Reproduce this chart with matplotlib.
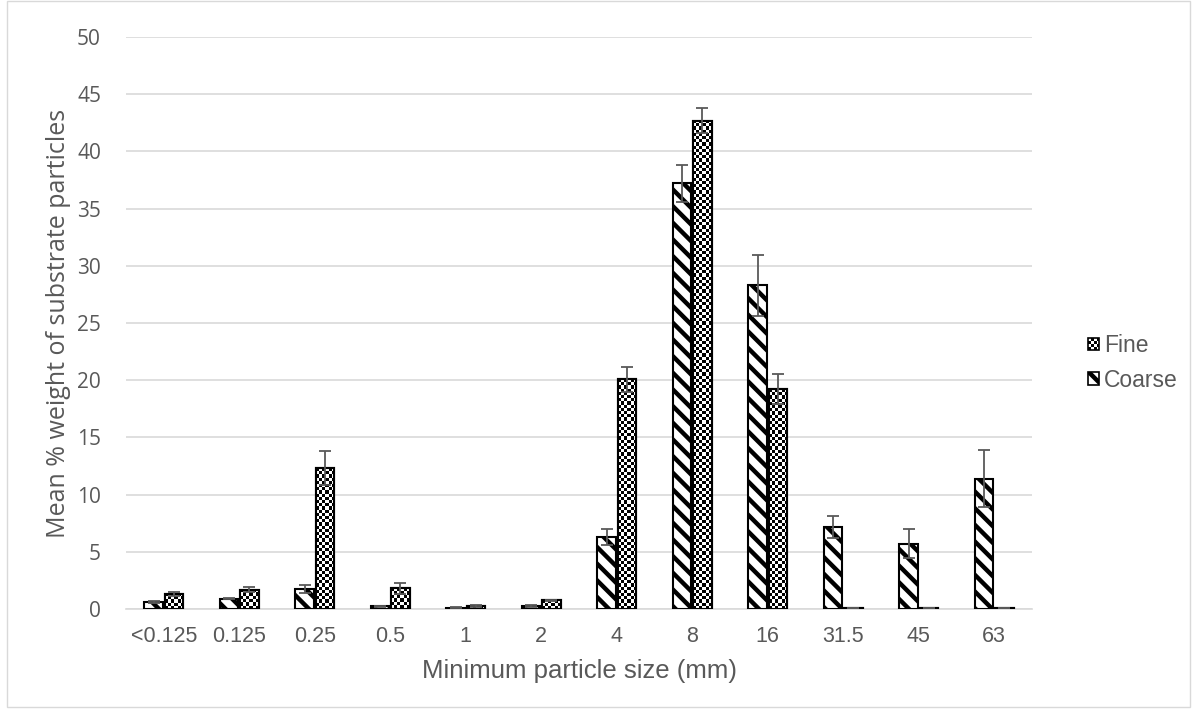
import numpy as np
import matplotlib
matplotlib.use("Agg")
import matplotlib.pyplot as plt
from matplotlib.patches import Patch, Rectangle
from matplotlib.legend_handler import HandlerBase

plt.rcParams['font.family'] = ['Liberation Sans', 'DejaVu Sans']
plt.rcParams['hatch.linewidth'] = 3.2

sizes = ["<0.125", "0.125", "0.25", "0.5", "1", "2", "4", "8", "16", "31.5", "45", "63"]
coarse = [0.61, 0.9, 1.75, 0.23, 0.12, 0.26, 6.3, 37.2, 28.3, 7.17, 5.72, 11.4]
coarse_err = [0.05, 0.05, 0.33, 0.05, 0.03, 0.05, 0.7, 1.6, 2.65, 1.0, 1.23, 2.5]
fine = [1.32, 1.7, 12.3, 1.81, 0.26, 0.76, 20.09, 42.7, 19.2, 0.05, 0.05, 0.05]
fine_err = [0.2, 0.23, 1.5, 0.5, 0.05, 0.05, 1.1, 1.07, 1.3, 0.0, 0.0, 0.0]

grey = "#595959"
W, H = 1192, 712


class CheckerHandler(HandlerBase):
    # small checkerboard square for the legend
    def create_artists(self, legend, orig_handle, xdescent, ydescent, width, height, fontsize, trans):
        arts = []
        n = 4
        cw, ch = width / n, height / n
        for i in range(n):
            for j in range(n):
                if (i + j) % 2 == 0:
                    arts.append(Rectangle((-xdescent + i * cw, -ydescent + j * ch), cw, ch,
                                          facecolor="black", edgecolor="none", transform=trans))
        arts.append(Rectangle((-xdescent, -ydescent), width, height, facecolor="none",
                              edgecolor="black", linewidth=1.2, transform=trans))
        return arts


fig = plt.figure(figsize=(W / 100, H / 100), dpi=100)
ax = fig.add_axes([126 / W, 103 / H, 906 / W, 572 / H])
fig.patches.append(Rectangle((7 / W, 5 / H), 1183 / W, 706 / H, transform=fig.transFigure,
                             fill=False, edgecolor="#d9d9d9", linewidth=1))

x = np.arange(len(sizes))
w = 0.25
off = 0.135

cb = ax.bar(x - off, coarse, w, color="white", edgecolor="black", linewidth=1.5,
            hatch="\\\\", zorder=3)
fb = ax.bar(x + off, fine, w, color="white", edgecolor="black", linewidth=1.5, zorder=3)

ax.errorbar(x - off, coarse, yerr=coarse_err, fmt="none", ecolor=grey, elinewidth=1.3,
            capsize=4.3, capthick=1.3, zorder=5)
ax.errorbar(x + off, fine, yerr=fine_err, fmt="none", ecolor=grey, elinewidth=1.3,
            capsize=4.3, capthick=1.3, zorder=5)

# checker pattern for the fine bars, clipped to each bar
px_per_unit_y = 572 / 50
px_per_unit_x = 906 / len(sizes)
cell = 3.2
for r in fb:
    bx, by = r.get_x(), r.get_y()
    bw, bh = r.get_width(), r.get_height()
    nx = max(1, int(round(bw * px_per_unit_x / cell)))
    ny = max(1, int(round(bh * px_per_unit_y / cell)))
    board = np.indices((ny, nx)).sum(axis=0) % 2
    im = ax.imshow(board, cmap="gray", extent=(bx, bx + bw, by, by + bh),
                   interpolation="nearest", aspect="auto", zorder=3.5)
    im.set_clip_path(r)
    ax.add_patch(Rectangle((bx, by), bw, bh, fill=False, edgecolor="black",
                           linewidth=1.5, zorder=4))

ax.set_xlim(-0.5, len(sizes) - 0.5)
ax.set_ylim(0, 50)

ax.set_yticks(np.arange(0, 51, 5))
ax.set_xticks(x)
ax.set_xticklabels(sizes)
ax.grid(axis="y", color="#d9d9d9", linewidth=1.2, zorder=0)
ax.set_axisbelow(True)
for s in ["top", "right", "left"]:
    ax.spines[s].set_visible(False)
ax.spines["bottom"].set_color("#d9d9d9")
ax.spines["bottom"].set_linewidth(1.2)
ax.tick_params(axis="x", length=0, labelsize=15.5, labelcolor=grey, pad=12)
ax.tick_params(axis="y", length=0, labelsize=15, labelcolor=grey, pad=18)
for t in ax.get_yticklabels():
    t.set_fontfamily(["Open Sans", "DejaVu Sans"])

ax.set_xlabel("Minimum particle size (mm)", fontsize=18.5, color=grey)
ax.xaxis.set_label_coords(0.5, -62 / 572)
ax.xaxis.label.set_va("center")
ax.set_ylabel("Mean % weight of substrate particles", fontsize=18, color=grey,
              family=["Open Sans", "DejaVu Sans"])
ax.yaxis.set_label_coords(-67 / 906, 0.5)
ax.yaxis.label.set_va("center")

fine_h = Patch(facecolor="white", edgecolor="black", label="Fine")
coarse_h = Patch(facecolor="white", edgecolor="black", hatch="\\\\", linewidth=1.2,
                 label="Coarse")
ax.legend(handles=[fine_h, coarse_h], handler_map={fine_h: CheckerHandler()},
          loc="center left", bbox_to_anchor=((1077 - 126) / 906, (609 - 363) / 572),
          frameon=False, borderpad=0, fontsize=16.5, labelcolor=grey,
          handlelength=0.47, handleheight=0.47, handletextpad=0.2, labelspacing=0.5)

fig.savefig("out.png", dpi=100)
